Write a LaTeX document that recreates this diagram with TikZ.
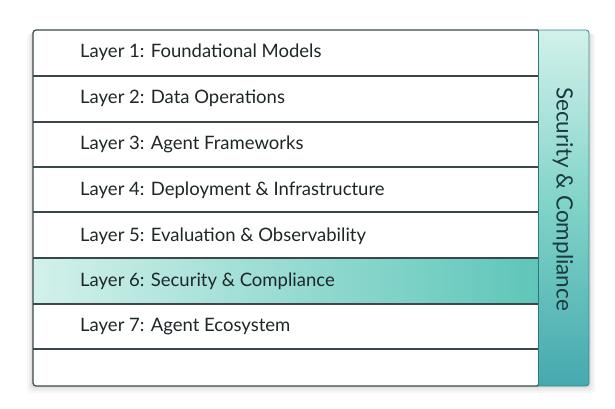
\documentclass[tikz,border=0pt]{standalone}
\usepackage{fontspec}
\setmainfont{Lato}
\definecolor{linec}{HTML}{3C474B}
\definecolor{txt}{HTML}{1E2628}
\definecolor{tealL}{HTML}{D2F1EB}
\definecolor{tealM}{HTML}{7FD3C8}
\definecolor{tealD}{HTML}{45A9AE}
\definecolor{hiR}{HTML}{5EC6B9}
\definecolor{sidetxt}{HTML}{1C3A3F}
\tikzset{
  lbl/.style={anchor=west, font=\fontsize{18.5}{20}\selectfont, text=txt, inner sep=0pt},
  rowline/.style={draw=linec, line width=1.1pt},
}
\begin{document}
\begin{tikzpicture}[x=1pt,y=-1pt]
\useasboundingbox[fill=white] (0,0) rectangle (615,409);
% shadow
\foreach \d/\o in {6/0.03,4/0.04,2/0.05}{
  \fill[black,opacity=\o,rounded corners=4] (33-\d,32+\d*0.2) rectangle (589+\d,386+\d*1.2);
}
% side bar
\shade[top color=tealL, bottom color=tealD, middle color=tealM, rounded corners=3] (536,30) rectangle (589,386);
\draw[draw=tealD!80!black, line width=0.8pt, rounded corners=3] (536,30) rectangle (589,386);
% main box
\fill[white, rounded corners=3] (33,30) -- (538,30) -- (538,386) -- (33,386) -- cycle;
% layer 6 highlight
\shade[left color=tealL, right color=hiR] (33,258) rectangle (538,304);
% rows lines
\foreach \yy in {76,122,167,212,258,304,349}{
  \draw[rowline] (33,\yy) -- (538,\yy);
}
\draw[draw=linec, line width=1.2pt, rounded corners=3] (538,30) -- (33,30) -- (33,386) -- (538,386);
\draw[draw=tealD!70!black, line width=0.8pt] (538,30) -- (538,386);
% labels
\node[lbl] (l1) at (80,52) {Layer 1: Foundational Models};
\node[lbl] (l2) at (80,98) {Layer 2: Data Operations};
\node[lbl] (l3) at (80,144) {Layer 3: Agent Frameworks};
\node[lbl] (l4) at (80,190) {Layer 4: Deployment \& Infrastructure};
\node[lbl] (l5) at (80,236) {Layer 5: Evaluation \& Observability};
\node[lbl] (l6) at (80,281) {Layer 6: Security \& Compliance};
\node[lbl] (l7) at (80,327) {Layer 7: Agent Ecosystem};
\node[rotate=-90, font=\fontsize{22.5}{24}\selectfont, text=sidetxt, inner sep=0pt] (side) at (563,199) {Security \& Compliance};
\end{tikzpicture}
\end{document}
